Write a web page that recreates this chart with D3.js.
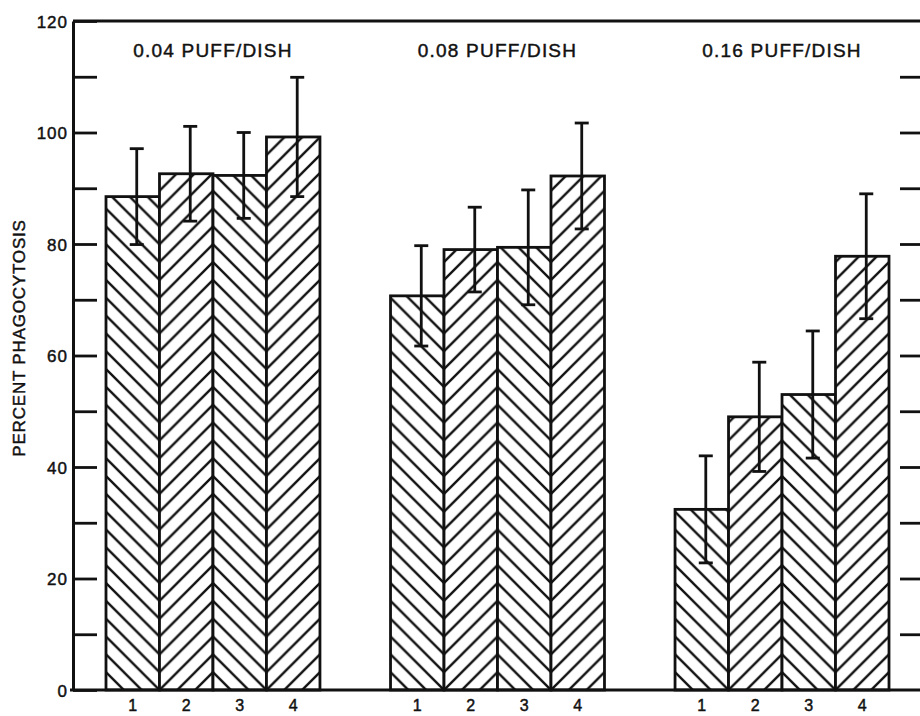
<!DOCTYPE html>
<html>
<head>
<meta charset="utf-8">
<script src="https://cdn.jsdelivr.net/npm/d3@7"></script>
<style>
body { margin: 0; background: #fff; }
text { font-family: "Liberation Sans", Arial, sans-serif; fill: #111; stroke: #111; stroke-width: 0.45px; }
</style>
</head>
<body>
<div id="frame"></div>
<script>

// values
var doses = ["0.04 PUFF/DISH", "0.08 PUFF/DISH", "0.16 PUFF/DISH"];
var treatments = ["1", "2", "3", "4"];
var means_004 = [88.5, 92.6, 92.3, 99.2];
var means_008 = [70.7, 79.0, 79.4, 92.2];
var means_016 = [32.4, 49.0, 53.0, 77.8];
var errs_004 = [8.6, 8.5, 7.7, 10.7];
var errs_008 = [9.0, 7.6, 10.3, 9.5];
var errs_016 = [9.6, 9.8, 11.4, 11.2];
var yTicks = [0, 10, 20, 30, 40, 50, 60, 70, 80, 90, 100, 110, 120];
var yLabels = [0, 20, 40, 60, 80, 100, 120];

var means = [means_004, means_008, means_016];
var errs = [errs_004, errs_008, errs_016];

var width = 920, height = 716;
var plotLeft = 73, plotRight = 920, plotTop = 21, plotBottom = 690;

var svg = d3.select('#frame').append('svg')
  .attr('width', width).attr('height', height);

var y = d3.scaleLinear().domain([0, 120]).range([plotBottom, plotTop]);

var x0 = d3.scaleBand().domain(doses).range([106, 889]).paddingInner(0.248).paddingOuter(0);
var x1 = d3.scaleBand().domain(treatments).range([0, x0.bandwidth()]).padding(0);

var bars = [];
doses.forEach(function(d, g) {
  treatments.forEach(function(t, i) {
    bars.push({ dose: d, g: g, t: t, i: i, mean: means[g][i], err: errs[g][i] });
  });
});

// hatch patterns, one per bar so the lines meet at the bar edges
var defs = svg.append('defs');
var s = x1.bandwidth() / 3;
bars.forEach(function(b) {
  var p = defs.append('pattern')
    .attr('id', 'hatch-' + b.g + '-' + b.i)
    .attr('patternUnits', 'userSpaceOnUse')
    .attr('x', x0(b.dose) + x1(b.t))
    .attr('y', y(0))
    .attr('width', s).attr('height', s);
  p.append('rect').attr('width', s).attr('height', s).attr('fill', '#fff');
  var d = (b.i % 2 == 0)
    ? 'M-1,-1L' + (s + 1) + ',' + (s + 1) + 'M-1,' + (s - 1) + 'L1,' + (s + 1) + 'M' + (s - 1) + ',-1L' + (s + 1) + ',1'
    : 'M-1,' + (s + 1) + 'L' + (s + 1) + ',-1M-1,1L1,-1M' + (s - 1) + ',' + (s + 1) + 'L' + (s + 1) + ',' + (s - 1);
  p.append('path').attr('d', d).attr('stroke', '#111').attr('stroke-width', 2.4).attr('fill', 'none');
});

// bars
svg.append('g').selectAll('rect')
  .data(bars)
  .enter().append('rect')
  .attr('x', function(b) { return x0(b.dose) + x1(b.t); })
  .attr('y', function(b) { return y(b.mean); })
  .attr('width', x1.bandwidth())
  .attr('height', function(b) { return y(0) - y(b.mean); })
  .attr('fill', function(b) { return 'url(#hatch-' + b.g + '-' + b.i + ')'; })
  .attr('stroke', '#111')
  .attr('stroke-width', 2.8);

// error bars
var cap = 7, shift = 4;
var eb = svg.append('g').attr('stroke', '#111').attr('stroke-width', 2.8);
bars.forEach(function(b) {
  var cx = x0(b.dose) + x1(b.t) + x1.bandwidth() / 2 + shift;
  var hi = y(b.mean + b.err), lo = y(b.mean - b.err);
  eb.append('line').attr('x1', cx).attr('x2', cx).attr('y1', hi).attr('y2', lo);
  eb.append('line').attr('x1', cx - cap).attr('x2', cx + cap).attr('y1', hi).attr('y2', hi);
  eb.append('line').attr('x1', cx - cap).attr('x2', cx + cap).attr('y1', lo).attr('y2', lo);
});

// frame
svg.append('line').attr('x1', plotLeft).attr('x2', plotRight).attr('y1', y(120)).attr('y2', y(120))
  .attr('stroke', '#111').attr('stroke-width', 3);
svg.append('line').attr('x1', plotLeft - 3).attr('x2', plotRight).attr('y1', y(0)).attr('y2', y(0))
  .attr('stroke', '#111').attr('stroke-width', 3);

// left axis: ticks point inward, labels every 20
var yAxis = d3.axisLeft(y)
  .tickValues(yTicks)
  .tickSizeInner(-24)
  .tickSizeOuter(0)
  .tickPadding(5)
  .tickFormat(function(d) { return yLabels.indexOf(d) >= 0 ? d : ''; });
var ga = svg.append('g').attr('transform', 'translate(' + plotLeft + ',0)').call(yAxis);
ga.select('.domain').attr('stroke', '#111').attr('stroke-width', 3);
ga.selectAll('.tick line').attr('stroke', '#111').attr('stroke-width', 2.8);
ga.selectAll('.tick text')
  .attr('font-size', 17).attr('font-family', '"Liberation Sans", Arial, sans-serif')
  .attr('letter-spacing', 1).attr('fill', '#111').attr('dy', '0.36em');

// right side ticks
var yRight = d3.axisRight(y)
  .tickValues(yTicks.filter(function(d) { return d > 0 && d < 120; }))
  .tickSizeInner(-20).tickSizeOuter(0).tickFormat('');
var gr = svg.append('g').attr('transform', 'translate(' + plotRight + ',0)').call(yRight);
gr.select('.domain').remove();
gr.selectAll('.tick line').attr('stroke', '#111').attr('stroke-width', 2.8);

// treatment numbers under the bars
bars.forEach(function(b) {
  svg.append('text')
    .attr('x', x0(b.dose) + x1(b.t) + x1.bandwidth() / 2)
    .attr('y', 711)
    .attr('text-anchor', 'middle')
    .attr('font-size', 16)
    .text(b.t);
});

// dose titles
svg.append('g').selectAll('text')
  .data(doses)
  .enter().append('text')
  .attr('x', function(d) { return x0(d) + x0.bandwidth() / 2; })
  .attr('y', 57)
  .attr('text-anchor', 'middle')
  .attr('font-size', 19)
  .attr('letter-spacing', 1.2)
  .text(function(d) { return d; });

// y axis title
svg.append('text')
  .attr('transform', 'translate(25,338) rotate(-90)')
  .attr('text-anchor', 'middle')
  .attr('font-size', 17)
  .attr('letter-spacing', 0.8)
  .text('PERCENT PHAGOCYTOSIS');

</script>
</body>
</html>
